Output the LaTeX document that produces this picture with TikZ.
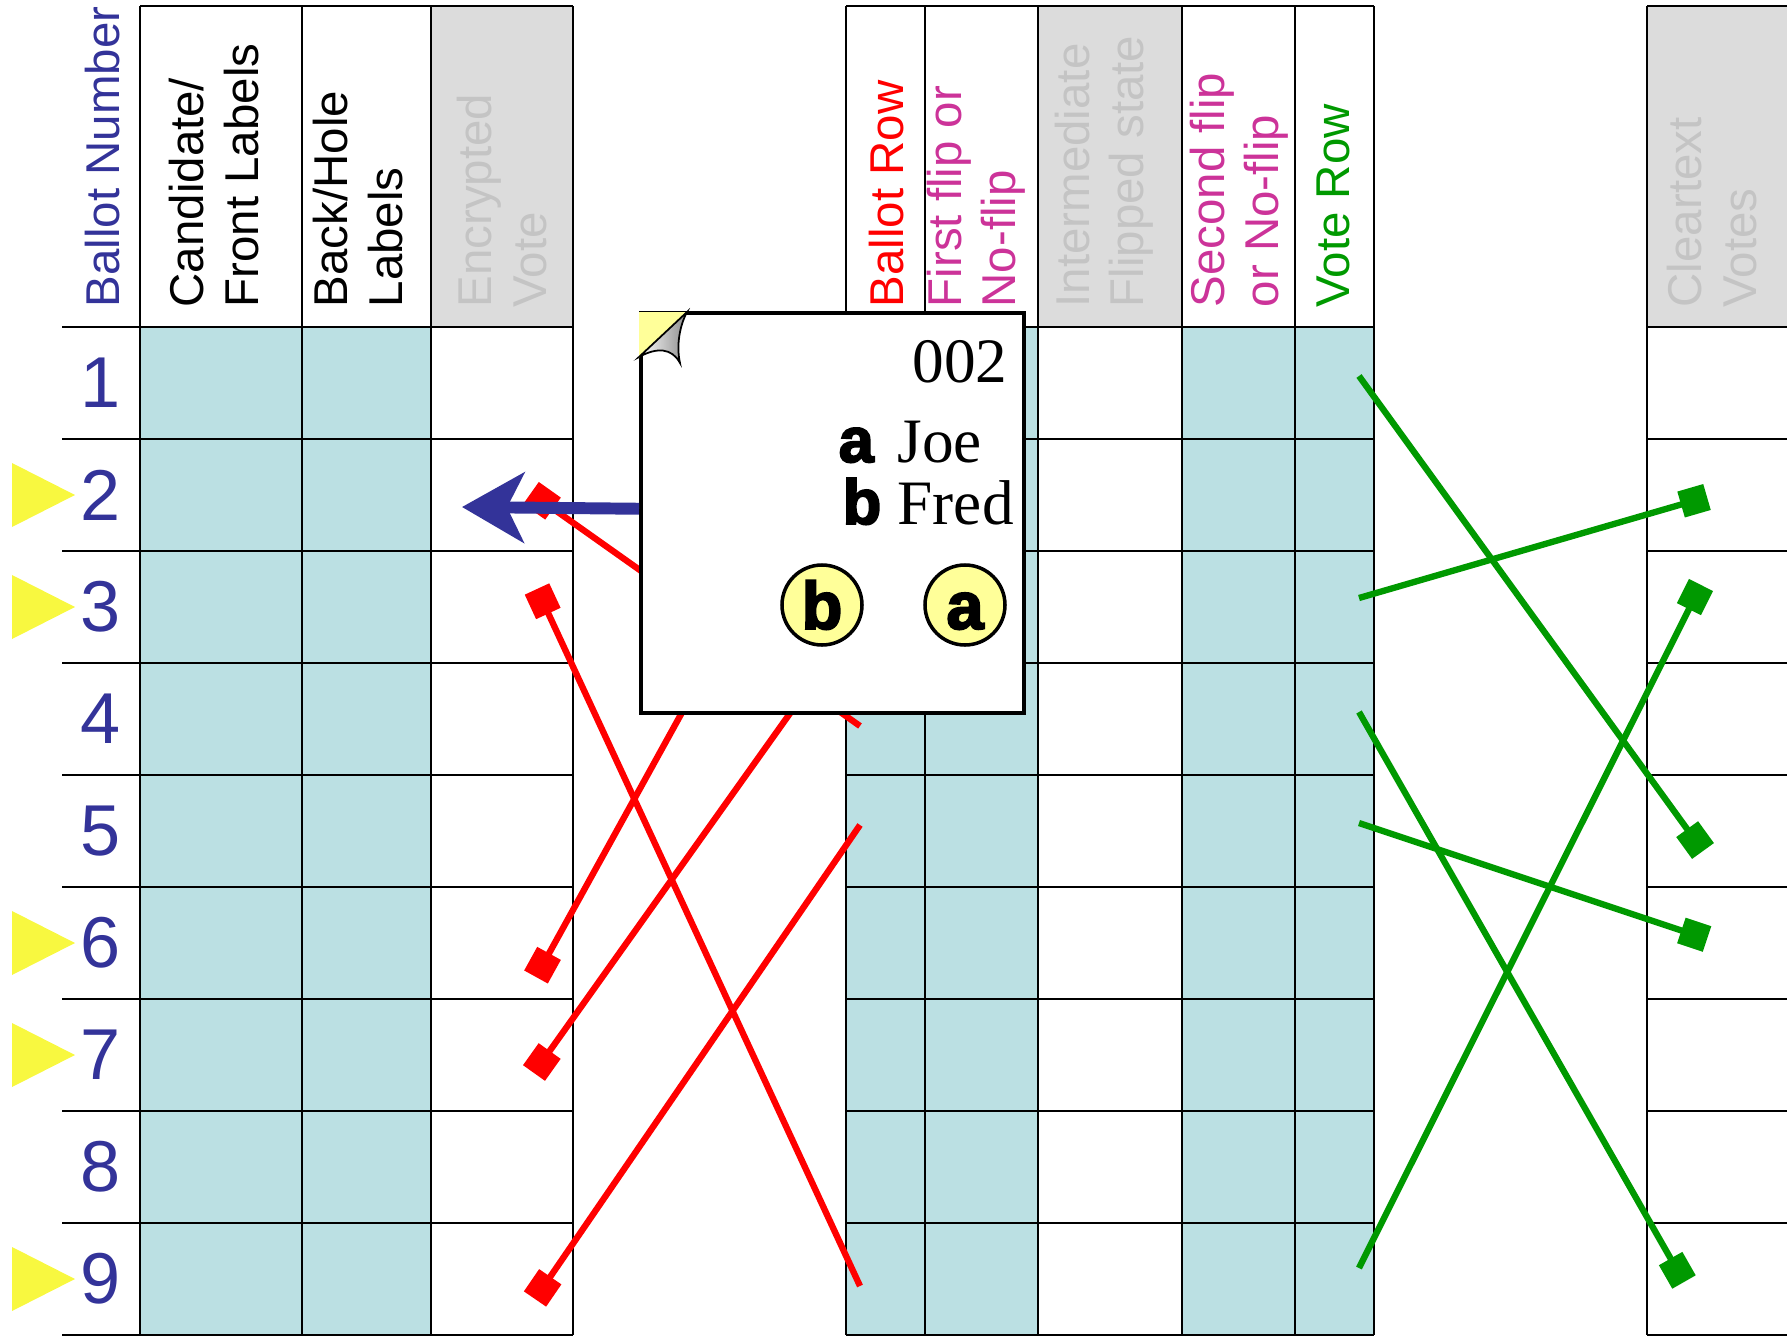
\documentclass[tikz,border=0pt]{standalone}
\usepackage{fontspec}
\setmainfont{Liberation Sans}
\newfontfamily\cardfont{Liberation Serif}
\newfontfamily\heavyfont{Liberation Sans}[FakeBold=3]
\usepackage{tikz}
\usetikzlibrary{arrows.meta,positioning}

\definecolor{cellblue}{RGB}{187,224,227}
\definecolor{hdrgray}{RGB}{220,220,220}
\definecolor{txtgray}{RGB}{196,196,196}
\definecolor{numblue}{RGB}{51,51,153}
\definecolor{flipmag}{RGB}{204,51,153}
\definecolor{votegreen}{RGB}{0,153,0}
\definecolor{noteyellow}{RGB}{255,255,153}
\definecolor{marktri}{RGB}{248,248,64}

\begin{document}
\begin{tikzpicture}[x=0.1mm, y=-0.1mm,
  every node/.style={inner sep=0pt, font=\fontsize{13.5}{15.4}\selectfont},
  hdr/.style={rotate=90, anchor=west, align=left},
  gridln/.style={line width=0.7pt},
  numlbl/.style={numblue, font=\fontsize{20.5}{22}\selectfont},
  redperm/.style={red, line width=1.8pt, -{Square[length=2.7mm,width=2.7mm]}},
  greenperm/.style={votegreen, line width=1.8pt, -{Square[length=2.7mm,width=2.7mm]}},
  cardtxt/.style={font=\cardfont\fontsize{18}{20}\selectfont, anchor=base west},
  cardkey/.style={font=\heavyfont\bfseries\fontsize{18}{20}\selectfont, anchor=base west},
  ballbtn/.style={circle, draw, fill=noteyellow, line width=1pt, minimum size=8mm,
    font=\heavyfont\bfseries\fontsize{19}{20}\selectfont}]
  \useasboundingbox (0,0) rectangle (1787,1341);

  % shaded columns
  \fill[cellblue] (140,327) rectangle (431,1335);
  \fill[cellblue] (846,327) rectangle (1038,1335);
  \fill[cellblue] (1182,327) rectangle (1374,1335);
  \fill[hdrgray] (431,6) rectangle (573,327);
  \fill[hdrgray] (1038,6) rectangle (1182,327);
  \fill[hdrgray] (1647,6) rectangle (1787,327);

  % grid
  \foreach \y in {327,439,...,1335} {
    \draw[gridln] (62,\y) -- (573,\y);
    \draw[gridln] (846,\y) -- (1374,\y);
    \draw[gridln] (1647,\y) -- (1787,\y);
  }
  \draw[gridln] (140,6) -- (573,6);
  \draw[gridln] (846,6) -- (1374,6);
  \draw[gridln] (1647,6) -- (1787,6);
  \foreach \x in {140,302,431,573,846,925,1038,1182,1295,1374,1647}
    \draw[gridln] (\x,6) -- (\x,1335);

  % column heads
  \node[hdr,numblue] (hnum) at (103,308) {Ballot Number};
  \node[hdr] (hcand) at (214,308) {Candidate/\\Front Labels};
  \node[hdr] (hback) at (358,308) {Back/Hole\\Labels};
  \node[hdr,txtgray] (henc) at (502,308) {Encrypted\\Vote};
  \node[hdr,red] (hbrow) at (887,308) {Ballot Row};
  \node[hdr,flipmag] (hflip1) at (976,308) {First flip or\\No-flip};
  \node[hdr,txtgray] (hmid) at (1104,308) {Intermediate\\Flipped state};
  \node[hdr,flipmag] (hflip2) at (1239,308) {Second flip\\or No-flip};
  \node[hdr,votegreen] (hvrow) at (1333,308) {Vote Row};
  \node[hdr,txtgray] (hclr) at (1712,308) {Cleartext\\Votes};

  % ballot numbers and marks
  \foreach \i in {1,...,9}
    \node[numlbl] (n\i) at (101,{271+112*\i}) {\i};
  \foreach \i in {2,3,6,7,9}
    \fill[marktri] (12,{239+112*\i}) -- (75,{271+112*\i}) -- (12,{303+112*\i}) -- cycle;

  % row ends
  \coordinate (enc2) at (531,493);
  \coordinate (enc3) at (537,589);
  \coordinate (enc6) at (536,977);
  \coordinate (enc7) at (534,1073);
  \coordinate (enc9) at (535,1299);
  \coordinate (bal1) at (860,390);
  \coordinate (bal3) at (860,615);
  \coordinate (bal4) at (860,726);
  \coordinate (bal5) at (860,825);
  \coordinate (bal9) at (860,1286);
  \coordinate (vot1) at (1359,376);
  \coordinate (vot3) at (1359,598);
  \coordinate (vot4) at (1359,712);
  \coordinate (vot5) at (1359,823);
  \coordinate (vot9) at (1359,1268);
  \coordinate (clr2) at (1707,497);
  \coordinate (clr3) at (1701,585);
  \coordinate (clr5) at (1703,851);
  \coordinate (clr6) at (1707,939);
  \coordinate (clr9) at (1684,1282);

  \draw[redperm] (bal4) -- (enc2);
  \draw[redperm] (bal9) -- (enc3);
  \draw[redperm] (bal1) -- (enc6);
  \draw[redperm] (bal3) -- (enc7);
  \draw[redperm] (bal5) -- (enc9);

  \draw[greenperm] (vot1) -- (clr5);
  \draw[greenperm] (vot3) -- (clr2);
  \draw[greenperm] (vot4) -- (clr9);
  \draw[greenperm] (vot5) -- (clr6);
  \draw[greenperm] (vot9) -- (clr3);

  % the ballot card
  \node[draw, fill=white, line width=1pt, anchor=north west,
    minimum width=38.3mm, minimum height=40mm] (card) at (639,311) {};
  \fill[noteyellow] (639,312) -- (687,312) -- (639,358) -- cycle;
  \draw[line width=0.5pt, left color=white, right color=black!45]
    (687,312) -- (639,357) .. controls (657,347) and (672,348) .. (680,363)
    .. controls (676,345) and (680,325) .. cycle;
  \node[font=\cardfont\fontsize{18}{20}\selectfont, anchor=base east] (serial) at (1008,382) {002};
  \node[cardkey] (keya) at (838,462) {a};
  \node[cardtxt] (joe) at (897,462) {Joe};
  \node[cardkey] (keyb) at (842,524) {b};
  \node[cardtxt] (fred) at (897,524) {Fred};
  \node[ballbtn] (btnb) at (822,605) {b};
  \node[ballbtn] (btna) at (965,605) {\vphantom{b}a};

  \coordinate (enctip) at (462,507);
  \draw[numblue, line width=3.4pt, -{Stealth[length=6.2mm,width=7mm,inset=1.7mm]}]
    ([yshift=0.4mm]card.west) -- (enctip);
\end{tikzpicture}
\end{document}
